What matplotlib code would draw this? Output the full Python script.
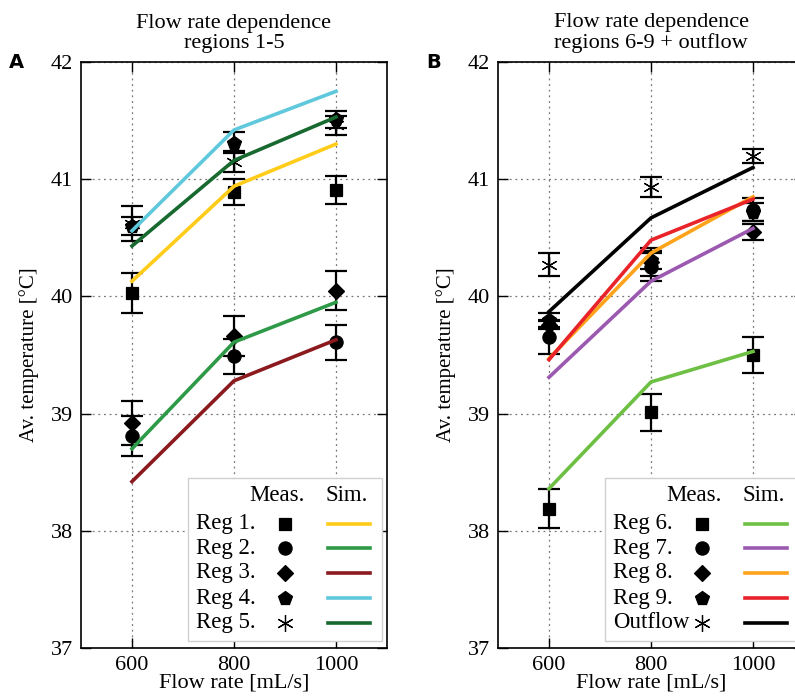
import numpy as np
import matplotlib
matplotlib.use("Agg")
import matplotlib.pyplot as plt

plt.rcParams['font.family'] = ['Liberation Serif', 'DejaVu Serif']

flow = [600, 800, 1000]

# panel A: regions 1-5
labels_a = ["Reg 1.", "Reg 2.", "Reg 3.", "Reg 4.", "Reg 5."]
sim_reg1 = [40.13, 40.94, 41.30]
sim_reg2 = [38.70, 39.61, 39.95]
sim_reg3 = [38.42, 39.28, 39.63]
sim_reg4 = [40.56, 41.42, 41.75]
sim_reg5 = [40.43, 41.16, 41.53]
meas_reg1 = [40.03, 40.89, 40.91]
meas_reg2 = [38.81, 39.49, 39.61]
meas_reg3 = [38.92, 39.66, 40.05]
meas_reg4 = [40.60, 41.31, 41.51]
meas_reg5 = [40.62, 41.15, 41.46]
err_reg1 = [0.17, 0.11, 0.12]
err_reg2 = [0.17, 0.15, 0.15]
err_reg3 = [0.19, 0.17, 0.17]
err_reg4 = [0.08, 0.09, 0.07]
err_reg5 = [0.15, 0.09, 0.08]

# panel B: regions 6-9 + outflow
labels_b = ["Reg 6.", "Reg 7.", "Reg 8.", "Reg 9.", "Outflow"]
sim_reg6 = [38.36, 39.27, 39.53]
sim_reg7 = [39.31, 40.13, 40.58]
sim_reg8 = [39.47, 40.37, 40.85]
sim_reg9 = [39.46, 40.48, 40.83]
sim_out = [39.87, 40.67, 41.10]
meas_reg6 = [38.19, 39.01, 39.50]
meas_reg7 = [39.65, 40.25, 40.74]
meas_reg8 = [39.76, 40.29, 40.55]
meas_reg9 = [39.80, 40.31, 40.72]
meas_out = [40.27, 40.93, 41.20]
err_reg6 = [0.17, 0.16, 0.15]
err_reg7 = [0.14, 0.12, 0.10]
err_reg8 = [0.04, 0.12, 0.07]
err_reg9 = [0.06, 0.08, 0.08]
err_out = [0.10, 0.085, 0.06]

markers = ['s', 'o', 'D', 'p', (6, 2, 0)]
msizes = [9, 9.5, 8, 10, 12]
colors_a = ['#FFCC1A', '#2E9A48', '#8B1A1E', '#5FC8DC', '#17692F']
colors_b = ['#6DC044', '#9B59B0', '#FFA31A', '#E8232A', '#000000']


def draw_panel(ax, sims, meas, errs, colors, labels, title, letter):
    for m, e, mk, ms in zip(meas, errs, markers, msizes):
        ax.errorbar(flow, m, yerr=e, fmt='none', ecolor='black',
                    elinewidth=1.6, capsize=8, capthick=1.6, zorder=3)
        ax.plot(flow, m, linestyle='none', marker=mk, ms=ms, color='black',
                mew=0.9, zorder=3)
    for s, c in zip(sims, colors):
        ax.plot(flow, s, color=c, lw=2.6, zorder=4)

    ax.set_xlim(500, 1100)
    ax.set_ylim(37, 42)
    ax.set_xticks([600, 800, 1000])
    ax.set_yticks([37, 38, 39, 40, 41, 42])
    ax.tick_params(direction='in', top=True, right=True, length=7,
                   width=1.0, labelsize=16, pad=6)
    ax.grid(True, linestyle=(0, (1.5, 3)), color='#777777', lw=0.9)
    for sp in ax.spines.values():
        sp.set_linewidth(1.2)
    ax.set_xlabel("Flow rate [mL/s]", fontsize=16, labelpad=-1)
    ax.set_ylabel("Av. temperature [°C]", fontsize=15, labelpad=8)
    ax.set_title(title, fontsize=16, pad=10, linespacing=1.1)
    ax.text(-0.21, 1.0, letter, transform=ax.transAxes, fontsize=14,
            fontweight='bold', family='DejaVu Sans', va='center', ha='center')

    # legend table: label, measurement marker, simulation line
    box = plt.Rectangle((0.35, 0.012), 0.634, 0.278, transform=ax.transAxes,
                        facecolor='white', edgecolor='#d0d0d0', lw=1.0,
                        zorder=6)
    ax.add_patch(box)
    ax.text(0.642, 0.260, "Meas.", transform=ax.transAxes, fontsize=16.5,
            ha='center', va='center', zorder=7)
    ax.text(0.868, 0.260, "Sim.", transform=ax.transAxes, fontsize=16.5,
            ha='center', va='center', zorder=7)
    rows = [0.212, 0.170, 0.128, 0.085, 0.043]
    for y, lab, mk, ms, c in zip(rows, labels, markers, msizes, colors):
        ax.text(0.375, y, lab, transform=ax.transAxes, fontsize=16.5,
                ha='left', va='center', zorder=7)
        ax.plot([0.668], [y], marker=mk, ms=ms, color='black',
                mew=0.9, transform=ax.transAxes, zorder=7, clip_on=False)
        ax.plot([0.808, 0.944], [y, y], color=c, lw=2.6,
                transform=ax.transAxes, zorder=7, clip_on=False)


fig = plt.figure(figsize=(7.95, 7.0), dpi=100)
ax1 = fig.add_axes([81 / 795, 52 / 700, 306 / 795, 586 / 700])
ax2 = fig.add_axes([498 / 795, 52 / 700, 306 / 795, 586 / 700])

draw_panel(ax1,
           [sim_reg1, sim_reg2, sim_reg3, sim_reg4, sim_reg5],
           [meas_reg1, meas_reg2, meas_reg3, meas_reg4, meas_reg5],
           [err_reg1, err_reg2, err_reg3, err_reg4, err_reg5],
           colors_a, labels_a, "Flow rate dependence\nregions 1-5", "A")
draw_panel(ax2,
           [sim_reg6, sim_reg7, sim_reg8, sim_reg9, sim_out],
           [meas_reg6, meas_reg7, meas_reg8, meas_reg9, meas_out],
           [err_reg6, err_reg7, err_reg8, err_reg9, err_out],
           colors_b, labels_b, "Flow rate dependence\nregions 6-9 + outflow", "B")

fig.savefig("out.png", dpi=100)
